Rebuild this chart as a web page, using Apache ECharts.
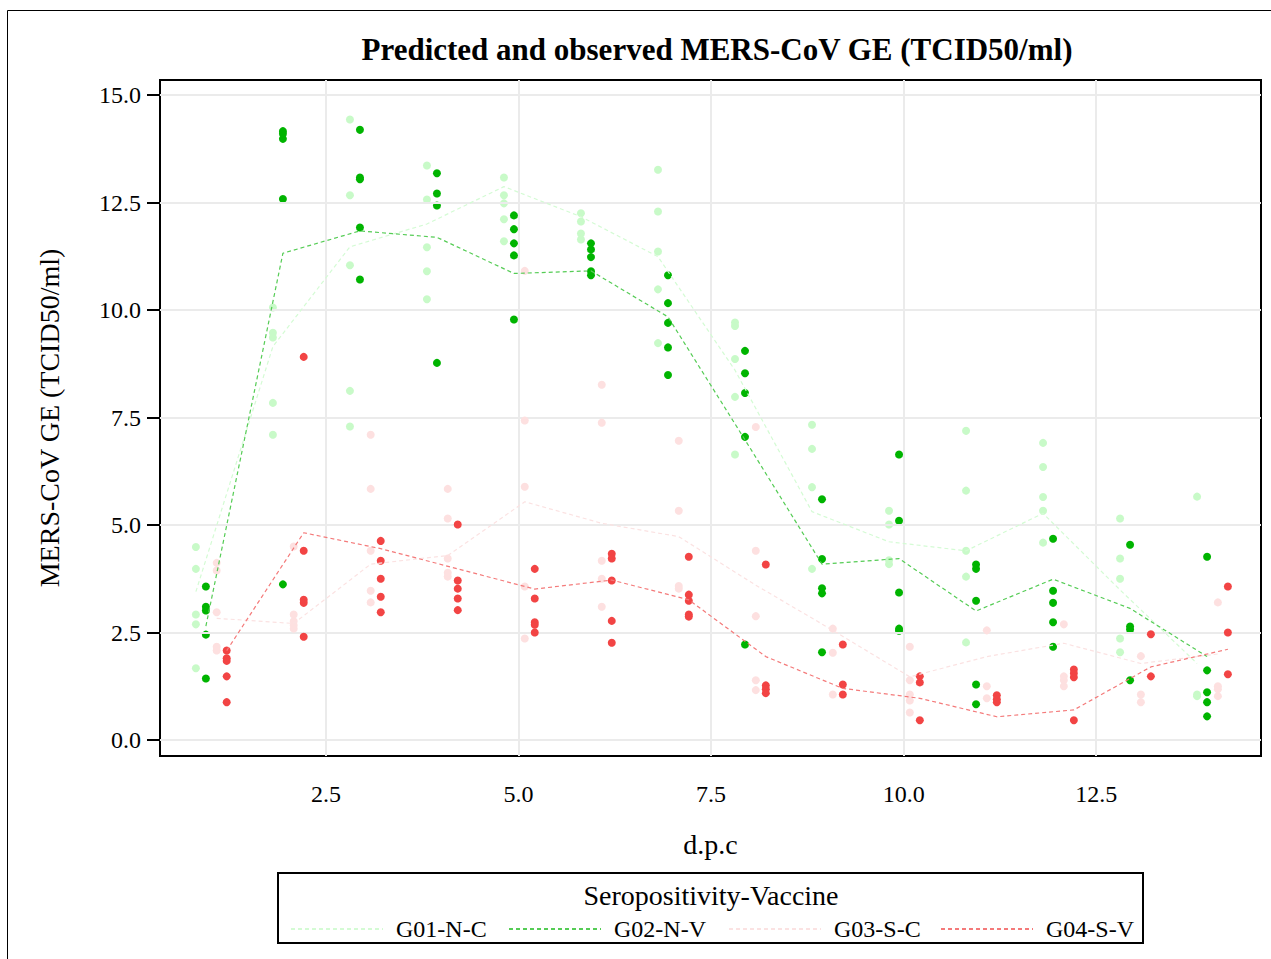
<!DOCTYPE html>
<html>
<head>
<meta charset="utf-8">
<script src="https://cdn.jsdelivr.net/npm/echarts@6/dist/echarts.min.js"></script>
<style>html,body{margin:0;padding:0;background:#fff}#c{width:1271px;height:959px}</style>
</head>
<body>
<div id="c"></div>
<script>
// ---- data ----
const days = [1,2,3,4,5,6,7,8,9,10,11,12,13,14];
const groups = ['G01-N-C','G02-N-V','G03-S-C','G04-S-V'];
const groupOffsets = [-0.19,-0.06,0.08,0.21];
const xTicks = [2.5,5.0,7.5,10.0,12.5];
const yTicks = [0,2.5,5,7.5,10,12.5,15];

const obsG01 = [
  [4.49,3.98,2.92,2.69,1.67],[10.06,9.47,9.36,7.84,7.10],[14.43,12.67,11.04,8.12,7.29],
  [13.36,12.57,11.46,10.90,10.25],[13.08,12.67,12.48,12.11,11.60],[12.25,12.06,11.78,11.64],
  [13.26,12.29,11.36,10.48,9.23],[9.71,9.63,8.86,7.98,6.64],[7.33,6.77,5.88,3.98],
  [5.33,5.01,4.18,4.09],[7.19,5.80,4.40,3.80,2.27],[6.91,6.35,5.65,5.33,4.59],
  [5.15,4.22,3.75,2.36,2.04],[5.66,1.06,1.02]
];
const obsG02 = [
  [3.57,3.10,3.01,2.45,1.43],[14.16,14.10,13.98,12.58,3.62],[14.19,13.08,13.04,11.92,10.71],
  [13.18,12.71,12.43,8.77],[12.20,11.88,11.55,11.27,9.78],[11.55,11.41,11.23,10.90,10.81],
  [10.81,10.16,9.70,9.13,8.49],[9.05,8.53,8.07,7.05,2.22],[5.60,4.21,3.53,3.41,2.04],
  [6.64,5.10,3.43,2.59,2.54],[4.08,3.98,3.24,1.29,0.83],[4.68,3.47,3.19,2.74,2.17],
  [4.54,2.64,2.57,1.39],[4.26,1.62,1.11,0.88,0.55]
];
const obsG03 = [
  [4.12,3.94,2.97,2.17,2.08],[4.50,2.92,2.76,2.67,2.59],[7.10,5.84,4.40,3.47,3.20],
  [5.84,5.15,4.22,3.89,3.80],[10.91,7.43,5.89,3.57,2.36],[8.26,7.38,4.17,3.75,3.10],
  [6.96,5.33,3.58,3.52],[7.28,4.40,2.88,1.39,1.16],[2.59,2.03,1.06],
  [2.17,1.39,1.06,0.92,0.64],[2.55,1.25,0.97],[2.69,1.48,1.39,1.25],
  [1.95,1.06,0.88],[3.20,1.25,1.18,1.02]
];
const obsG04 = [
  [2.08,1.90,1.84,1.48,0.88],[8.91,4.40,3.26,3.19,2.40],[4.63,4.17,3.75,3.33,2.97],
  [5.01,3.71,3.52,3.29,3.02],[3.98,3.29,2.74,2.68,2.50],[4.33,4.22,3.71,2.77,2.26],
  [4.26,3.38,3.24,2.92,2.87],[4.08,1.27,1.18,1.09],[2.22,1.29,1.06],
  [1.48,1.34,0.46],[1.04,0.95,0.88],[1.64,1.55,1.46,0.46],
  [2.46,1.48],[3.57,2.50,1.53]
];
const predG01 = [3.45,9.15,11.47,12.0,12.87,12.17,11.24,8.6,5.31,4.61,4.40,5.27,3.49,1.78];
const predG02 = [2.65,11.32,11.84,11.69,10.85,10.91,9.84,6.98,4.09,4.22,3.0,3.74,3.06,1.94];
const predG03 = [2.83,2.71,4.09,4.29,5.54,5.04,4.73,3.6,2.55,1.47,1.94,2.25,1.78,2.0];
const predG04 = [2.08,4.82,4.45,3.98,3.51,3.72,3.26,1.94,1.20,0.97,0.54,0.70,1.70,2.11];

// ---- styles ----
const pointColors = ['#c8fac8','#00b400','#fde0e0','#f24444'];
const lineColors = ['#d4fbd4','#55cc55','#fbe2e2','#f47a7a'];
const FONT = '"Liberation Serif","Times New Roman",serif';

const obs = [obsG01,obsG02,obsG03,obsG04];
const pred = [predG01,predG02,predG03,predG04];

const series = [];
series.push({
  type:'scatter', name:'_grid', data:[], z:1, silent:true,
  markLine:{
    silent:true, symbol:'none', label:{show:false},
    lineStyle:{color:'#ebebeb', width:2, type:'solid'},
    animation:false,
    data: xTicks.map(v=>({xAxis:v})).concat(yTicks.map(v=>({yAxis:v})))
  }
});
groups.forEach((g,i)=>{
  const pts = [];
  obs[i].forEach((vals,di)=>{ vals.forEach(v=>pts.push([days[di]+groupOffsets[i], v])); });
  series.push({
    type:'scatter', name:g+' obs', data:pts, symbol:'circle', symbolSize:8,
    itemStyle:{color:pointColors[i], opacity:1}, z:3+i
  });
});
groups.forEach((g,i)=>{
  series.push({
    type:'line', name:g, data:pred[i].map((v,di)=>[days[di]+groupOffsets[i], v]),
    symbol:'none', showSymbol:false, z:10,
    lineStyle:{color:lineColors[i], width:1.2, type:[4,3]},
    itemStyle:{color:lineColors[i]}
  });
});

const legendLefts = [290,508,728,940];
const legends = groups.map((g,i)=>({
  data:[g], left:legendLefts[i], top:917, orient:'horizontal', padding:0,
  itemWidth:92, itemHeight:14, selectedMode:false,
  itemStyle:{opacity:0},
  textStyle:{fontFamily:FONT, fontSize:24, color:'#000', padding:[0,0,0,8]}
}));

const chart = echarts.init(document.getElementById('c'), null, {renderer:'svg'});
chart.setOption({
  animation:false,
  backgroundColor:'#fff',
  title:{
    text:'Predicted and observed MERS-CoV GE (TCID50/ml)',
    left:712, top:29, textAlign:'center',
    textStyle:{fontFamily:FONT, fontSize:31, fontWeight:'bold', color:'#000'}
  },
  grid:{left:160, top:80, right:10, bottom:203, show:true, borderColor:'#000', borderWidth:2, backgroundColor:'transparent'},
  xAxis:{
    type:'value', min:0.344, max:14.64,
    name:'d.p.c', nameLocation:'middle', nameGap:74,
    nameTextStyle:{fontFamily:FONT, fontSize:28, color:'#000'},
    axisLine:{show:false},
    splitLine:{show:false},
    axisTick:{show:true, inside:false, length:13, lineStyle:{color:'#000', width:2}, customValues:xTicks},
    axisLabel:{fontFamily:FONT, fontSize:24, color:'#000', margin:26, customValues:xTicks,
      formatter:v=>v.toFixed(1)}
  },
  yAxis:{
    type:'value', min:-0.372, max:15.349,
    name:'MERS-CoV GE (TCID50/ml)', nameLocation:'middle', nameGap:97,
    nameTextStyle:{fontFamily:FONT, fontSize:28, color:'#000'},
    axisLine:{show:false},
    splitLine:{show:false},
    axisTick:{show:true, inside:false, length:13, lineStyle:{color:'#000', width:2}, customValues:yTicks},
    axisLabel:{fontFamily:FONT, fontSize:24, color:'#000', margin:19, customValues:yTicks,
      formatter:v=>v.toFixed(1)}
  },
  legend:legends,
  graphic:[
    {type:'rect', shape:{x:7.5, y:10.5, width:1300, height:1000}, style:{fill:'none', stroke:'#000', lineWidth:1}, z:-1, silent:true},
    {type:'rect', shape:{x:278, y:873, width:865, height:70}, style:{fill:'none', stroke:'#000', lineWidth:2}, silent:true},
    {type:'text', x:711, y:895, style:{text:'Seropositivity-Vaccine', align:'center', verticalAlign:'middle', font:'28px '+FONT, fill:'#000'}, silent:true}
  ],
  series:series
});
</script>
</body>
</html>
